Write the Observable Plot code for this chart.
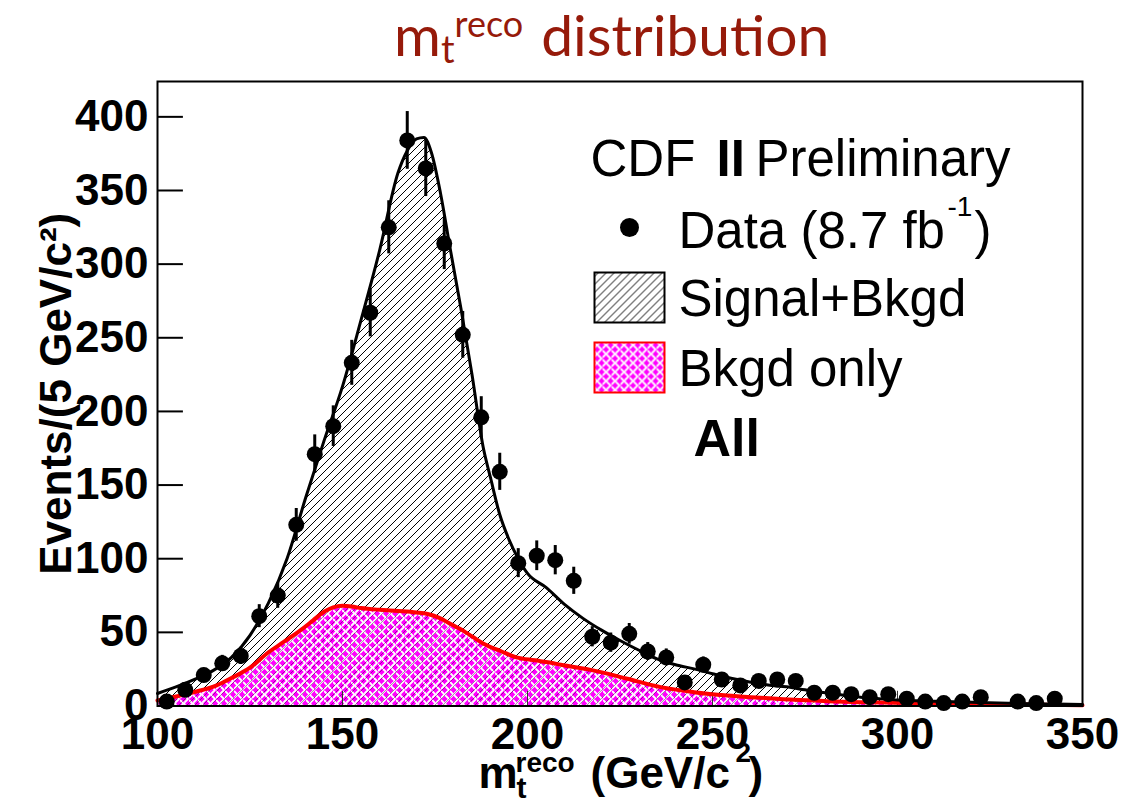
<!DOCTYPE html>
<html><head><meta charset="utf-8">
<script src="https://cdn.jsdelivr.net/npm/d3@7"></script>
<script src="https://cdn.jsdelivr.net/npm/@observablehq/plot@0.6"></script>
<style>
html,body{margin:0;padding:0;background:#fff;}
#title{position:relative;height:60px;width:1130px;}
#title .t{position:absolute;left:394px;top:6px;font-family:Lato,"Open Sans",sans-serif;font-size:57px;line-height:1;color:#961a0a;white-space:nowrap;}
#title .sub{font-size:38px;position:relative;top:7px;}
#title .sup{font-size:36px;position:relative;top:-19px;}
#title .rest{margin-left:18px;}
</style></head><body>
<div id="title"><div class="t">m<span class="sub">t</span><span class="sup">reco</span><span class="rest">distribution</span></div></div>
<div id="chart"></div>
<script>
// Data points (bin centres in GeV/c^2, events per 5 GeV/c^2)
const binCenters = [102.5,107.5,112.5,117.5,122.5,127.5,132.5,137.5,142.5,147.5,152.5,157.5,162.5,167.5,172.5,177.5,182.5,187.5,192.5,197.5,202.5,207.5,212.5,217.5,222.5,227.5,232.5,237.5,242.5,247.5,252.5,257.5,262.5,267.5,272.5,277.5,282.5,287.5,292.5,297.5,302.5,307.5,312.5,317.5,322.5,332.5,337.5,342.5];
const counts     = [3,11,21,29,34,61,75,123,171,190,233,267,325,384,365,314,252,196,159,97,102,99,85,47,43,49,37,33,16,28,18,14,17,18,17,9,9,8,6,8,5,3,2,3,6,3,2,5];

// Signal+Bkgd expectation curve
const totalX = [100,105,110,115,120,125,130,135,140,145,150,155,160,165,167.5,170,172,174,176.5,179,182,185,188,190,192.5,195,197.5,200,205,210,215,220,225,230,235,240,245,250,255,260,265,270,275,280,285,290,295,300,310,320,330,340,350];
const totalY = [8.5,13,18,24,33,48,70,100,141,180,217,262,309,362,377,385,386,376,348,312,270,225,176,155,130,113,100,90,80.5,69,59.5,51.5,44.5,38,32,28,25.2,21.9,18.8,16.3,14.3,13,11,9.1,7.5,6,5,4.1,3.2,2.5,1.9,1.4,1];

// Background-only expectation curve
const bkgdX = [100,105,110,116,120,125,130,134,138.6,142,145,147.5,150,152.5,155,160,165,170,173,176,179,183,188,193,197,202,206,209,218,227,236,245,254,263,272,281,290,299,317,335,350];
const bkgdY = [3.7,6.5,9.5,14,19,26,36.5,43.3,51.3,58,64,67,68,67.5,66.5,65.3,64.5,63.5,62.5,60,56,50.5,42.5,37,33,31,29.5,28,24,18.5,12.8,9.4,7.1,5.6,4.2,3.3,2.6,2.2,1.5,1,0.5];

// Axis ticks
const xTicks = [100,150,200,250,300,350];
const yTicks = [0,50,100,150,200,250,300,350,400];

const points = binCenters.map((x, i) => ({x, n: counts[i]}));
const total = totalX.map((x, i) => ({x, y: totalY[i]}));
const bkgd = bkgdX.map((x, i) => ({x, y: bkgdY[i]}));

const swatch = {draw(ctx) { ctx.moveTo(-35,-25); ctx.lineTo(35,-25); ctx.lineTo(35,25); ctx.lineTo(-35,25); ctx.closePath(); }};
const T = (s, o) => Plot.text([s], {text: d => d, textAnchor: "start", lineAnchor: "bottom", fill: "black", ...o});

const svg = Plot.plot({
  width: 1130, height: 738,
  marginLeft: 157, marginRight: 48, marginTop: 21, marginBottom: 92.5,
  style: {fontFamily: '"Liberation Sans", Arial, Helvetica, sans-serif', fontSize: "44px", fontWeight: "bold", color: "black", background: "white", overflow: "visible"},
  x: {domain: [100, 350]},
  y: {domain: [0, 424]},
  marks: [
    Plot.areaY(total, {x: "x", y: "y", curve: "monotone-x", fill: "url(#hatch)"}),
    Plot.areaY(bkgd, {x: "x", y: "y", curve: "monotone-x", fill: "url(#weave)"}),
    Plot.areaY(bkgd, {x: "x", y: "y", curve: "monotone-x", fill: "url(#hatch)", fillOpacity: 0.35}),
    Plot.ruleX(xTicks, {y1: 0, y2: 10, stroke: "#333", strokeWidth: 1}),
    Plot.ruleY(yTicks, {x1: 100, x2: 107, stroke: "black", strokeWidth: 2}),
    Plot.line(bkgd, {x: "x", y: "y", curve: "monotone-x", stroke: "#ff0000", strokeWidth: 4}),
    Plot.line(total, {x: "x", y: "y", curve: "monotone-x", stroke: "black", strokeWidth: 3}),
    Plot.ruleX(points, {x: "x", y1: d => d.n - Math.sqrt(d.n), y2: d => d.n + Math.sqrt(d.n), stroke: "black", strokeWidth: 3}),
    Plot.dot(points, {x: "x", y: "n", r: 8, fill: "black"}),
    Plot.frame({stroke: "black", strokeWidth: 2}),
    Plot.axisX({ticks: xTicks, tickSize: 0, tickPadding: 12, label: null, fontSize: 44}),
    Plot.axisY({ticks: yTicks, tickSize: 0, tickPadding: 9, label: null, fontSize: 44}),
    // axis titles
    T("Events/(5 GeV/c²)", {frameAnchor: "left", dx: -87, rotate: -90, textAnchor: "middle", fontSize: 44}),
    T("m", {frameAnchor: "bottom-left", dx: 321, dy: 82, fontSize: 44}),
    T("t", {frameAnchor: "bottom-left", dx: 359, dy: 92, fontSize: 30}),
    T("reco", {frameAnchor: "bottom-left", dx: 358, dy: 66, fontSize: 28}),
    T("(GeV/c", {frameAnchor: "bottom-left", dx: 433, dy: 82, fontSize: 44}),
    T("2", {frameAnchor: "bottom-left", dx: 578, dy: 56, fontSize: 28}),
    T(")", {frameAnchor: "bottom-left", dx: 591, dy: 82, fontSize: 44}),
    // legend
    T("CDF", {frameAnchor: "top-left", dx: 433, dy: 94, fontSize: 51, fontWeight: "normal"}),
    T("II", {frameAnchor: "top-left", dx: 559, dy: 94, fontSize: 51, fontWeight: "bold"}),
    T("Preliminary", {frameAnchor: "top-left", dx: 598, dy: 94, fontSize: 51, fontWeight: "normal"}),
    Plot.dot(["data"], {frameAnchor: "top-left", dx: 472, dy: 146, r: 9.5, fill: "black"}),
    T("Data (8.7 fb", {frameAnchor: "top-left", dx: 521, dy: 166, fontSize: 51, fontWeight: "normal"}),
    T("-1", {frameAnchor: "top-left", dx: 790, dy: 134, fontSize: 28, fontWeight: "normal"}),
    T(")", {frameAnchor: "top-left", dx: 817, dy: 166, fontSize: 51, fontWeight: "normal"}),
    Plot.dot(["sb"], {frameAnchor: "top-left", dx: 472, dy: 216, symbol: swatch, fill: "url(#hatch)", stroke: "black", strokeWidth: 2}),
    T("Signal+Bkgd", {frameAnchor: "top-left", dx: 521, dy: 234, fontSize: 51, fontWeight: "normal"}),
    Plot.dot(["b"], {frameAnchor: "top-left", dx: 472, dy: 286, symbol: swatch, fill: "url(#weave)", stroke: "#ff0000", strokeWidth: 2}),
    T("Bkgd only", {frameAnchor: "top-left", dx: 521, dy: 304, fontSize: 51, fontWeight: "normal"}),
    T("All", {frameAnchor: "top-left", dx: 536, dy: 374, fontSize: 52, fontWeight: "bold"})
  ]
});

const defs = d3.select(svg).insert("defs", ":first-child");
const hatch = defs.append("pattern").attr("id", "hatch").attr("patternUnits", "userSpaceOnUse").attr("width", 8).attr("height", 8);
hatch.append("path").attr("d", "M-2,2 L2,-2 M0,8 L8,0 M6,10 L10,6").attr("stroke", "#000").attr("stroke-width", 1).attr("fill", "none");
const weave = defs.append("pattern").attr("id", "weave").attr("patternUnits", "userSpaceOnUse").attr("width", 9).attr("height", 9);
weave.append("rect").attr("width", 9).attr("height", 9).attr("fill", "#ff00ff");
weave.append("path").attr("d", "M0.5,1.5 L3.5,4.5 M5,6 L8,9 M5,3 L8,0 M0.5,7.5 L3.5,4.5 M4.5,4.5 L4.5,4.5").attr("stroke", "#fff").attr("stroke-width", 1.8).attr("stroke-linecap", "round").attr("fill", "none");

document.getElementById("chart").appendChild(svg);
</script>
</body></html>
